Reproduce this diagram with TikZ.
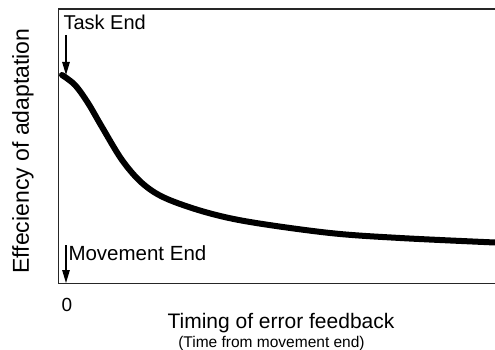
\documentclass[tikz,border=0pt]{standalone}
\usepackage{fontspec}
\setmainfont{Liberation Sans}
\usetikzlibrary{arrows.meta}
\begin{document}
\begin{tikzpicture}[x=1pt,y=-1pt,
  axisline/.style={line width=1.6pt,draw=black!85},
  marker/.style={line width=1.2pt,-{Triangle[length=13pt,width=7.5pt]}},
  curveline/.style={line width=6pt,line cap=round,line join=round},
  lbl/.style={inner sep=0pt,outer sep=0pt}]
\useasboundingbox (0,0) rectangle (495,350);
% axes
\coordinate (tr) at (495,9);
\coordinate (tl) at (58.5,9);
\coordinate (bl) at (58.5,283.5);
\coordinate (br) at (495,283.5);
\draw[axisline] (tr) -- (tl) -- (bl) -- (br);
% curve
\draw[curveline] plot[smooth,tension=0.55] coordinates {
  (62,75) (75,85) (88,103) (102,127) (122,160) (142,183) (165,198)
  (205,212) (250,222) (330,233) (400,238) (495,242.5)};
% arrows
\coordinate (te1) at (66,35);
\coordinate (te2) at (66,75);
\coordinate (me1) at (66,245);
\coordinate (me2) at (66,283);
\draw[marker] (te1) -- (te2);
\draw[marker] (me1) -- (me2);
% labels
\node[lbl,anchor=base west,font=\fontsize{20}{24}\selectfont] (task) at (63.5,30) {Task End};
\node[lbl,anchor=base west,font=\fontsize{20.5}{24}\selectfont] (move) at (68.5,260) {Movement End};
\node[lbl,anchor=center,font=\fontsize{19}{22}\selectfont] (zero) at (67,304.5) {0};
\node[lbl,anchor=center,rotate=90,font=\fontsize{23}{26}\selectfont] (ylab) at (23,151) {Effeciency of adaptation};
\node[lbl,anchor=base,font=\fontsize{21}{24}\selectfont] (xlab) at (281,328) {Timing of error feedback};
\node[lbl,anchor=base,font=\fontsize{15.5}{18}\selectfont] (xsub) at (271.5,347) {(Time from movement end)};
\end{tikzpicture}
\end{document}
